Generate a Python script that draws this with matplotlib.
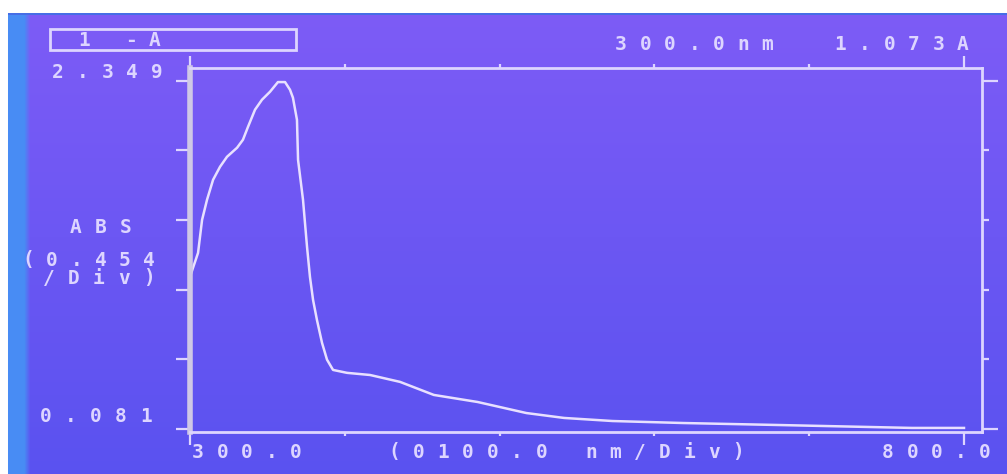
import numpy as np
import matplotlib
matplotlib.use("Agg")
import matplotlib.pyplot as plt
from matplotlib.patches import Rectangle

W, H = 1007, 474
LCD = "#ddd5ff"

# spectrum (nm, absorbance)
wavelength = [300, 305.2, 307.8, 311, 314.9, 319.4, 323.9, 330.4, 334.2, 337.5,
              342, 346.5, 351.7, 356.8, 361.4, 364.6, 366.5, 369.1, 369.8, 373,
              375.6, 377.5, 379.5, 382, 385.3, 388.5, 392.4, 401.4, 416.3,
              435.7, 457.5, 485.8, 517.3, 541.7, 573, 618.6, 680.3, 766.3, 800]
absorbance = [1.073, 1.229, 1.444, 1.575, 1.705, 1.79, 1.855, 1.914, 1.966, 2.051,
              2.162, 2.227, 2.279, 2.342, 2.342, 2.292, 2.240, 2.096, 1.835, 1.575,
              1.268, 1.072, 0.922, 0.792, 0.642, 0.533, 0.466, 0.447, 0.433,
              0.388, 0.303, 0.257, 0.185, 0.153, 0.133, 0.12, 0.107, 0.088, 0.088]

y_min, y_max, y_div = 0.081, 2.349, 0.454
x_min, x_max, x_div = 300.0, 800.0, 100.0

fig = plt.figure(figsize=(W / 100, H / 100), dpi=100)

# screen background (photo of an LCD: purple-blue with a lighter edge)
bg = fig.add_axes([0, 0, 1, 1])
yy, xx = np.mgrid[0:H, 0:W]
top = np.array([126, 92, 246]) / 255
bot = np.array([90, 82, 240]) / 255
t = (yy / H)[..., None]
img = top * (1 - t) + bot * t
strip = np.clip((30 - xx) / 6, 0, 1)[..., None] * (xx >= 8)[..., None]
img = img * (1 - strip) + np.array([72, 140, 244]) / 255 * strip
img[:13] = 1.0
img[:, :8] = 1.0
img[13:15, 8:] = np.array([70, 110, 230]) / 255
bg.imshow(img, aspect="auto", extent=[0, 1, 0, 1], interpolation="bilinear")
bg.axis("off")

# plot frame: left 190px, right 982px, top 68px, bottom 432px
left, right, topp, botp = 190, 982, 68, 432
ax = fig.add_axes([left / W, 1 - botp / H, (right - left) / W, (botp - topp) / H])
ax.set_facecolor("none")
xs = (964 - 190) / (x_max - x_min)
ys = (429 - 81) / (y_max - y_min)
ax.set_xlim(x_min, x_max + (right - 964) / xs)
ax.set_ylim(y_min - (botp - 429) / ys, y_max + (81 - topp) / ys)

ax.plot(wavelength, absorbance, color="#e8e0ff", lw=1.8)

for s in ax.spines.values():
    s.set_color(LCD)
    s.set_linewidth(2)
ax.spines["left"].set_color("#cfc8e6")
ax.spines["left"].set_linewidth(4)

yt = [y_min + k * y_div for k in range(6)]
ax.set_yticks([yt[0], yt[-1]])
ax.set_yticks(yt[1:-1], minor=True)
ax.set_xticks([x_min, x_max])
ax.set_xticks(np.arange(x_min + x_div, x_max, x_div), minor=True)
ax.tick_params(which="both", direction="out", color=LCD, width=1.6,
               labelleft=False, labelbottom=False, top=True, right=False)
ax.tick_params(axis="x", which="major", length=9)
ax.tick_params(axis="x", which="minor", length=3)
ax.tick_params(axis="y", which="both", length=10)

sec = ax.secondary_yaxis("right")
sec.set_yticks([yt[0], yt[-1]])
sec.set_yticks(yt[1:-1], minor=True)
sec.tick_params(which="both", direction="out", color=LCD, width=1.6, labelright=False)
sec.tick_params(which="major", length=11.5)
sec.tick_params(which="minor", length=5)
sec.spines["right"].set_visible(False)


def put(s, x0, y, step=24.3):
    for i, ch in enumerate(s):
        if ch != " ":
            fig.text((x0 + i * step) / W, 1 - y / H, ch, ha="center", va="center",
                     color=LCD, fontsize=14, fontweight="bold",
                     family="DejaVu Sans Mono")


fig.patches.append(Rectangle((50 / W, 1 - 50 / H), 246 / W, 21 / H, fill=False,
                             edgecolor=LCD, lw=2, transform=fig.transFigure))
put("1 -A", 84, 40, step=23.5)
put("300.0nm  1.073A", 621, 44, step=24.4)
put("2.349", 58, 73, step=24.7)
put("ABS", 76, 227, step=25)
put("(0.454", 28, 260, step=24.2)
put("/Div)", 49, 278, step=25)
put("0.081", 46, 416, step=25)
put("300.0", 198, 452, step=24.5)
put("(0100.0 nm/Div)", 394, 452, step=24.6)
put("800.0", 888, 452, step=24.3)

fig.savefig("out.png", dpi=100)
